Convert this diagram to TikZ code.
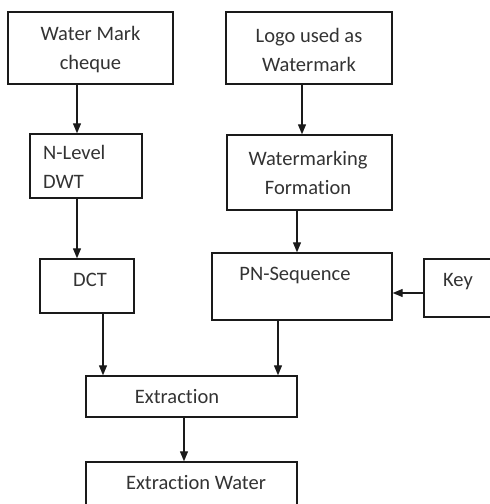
\documentclass[tikz,border=0pt]{standalone}
\usepackage{fontspec}
\setmainfont[Ligatures={NoCommon}]{Carlito}
\usetikzlibrary{arrows.meta,calc}
\definecolor{ink}{HTML}{1A1A1A}
\definecolor{inktext}{HTML}{333333}
\tikzset{>={Triangle[width=8pt,length=10pt]},line width=1.3pt,
  box/.style={draw=ink,line width=1.4pt,rectangle,inner sep=0pt},
  txt/.style={text=inktext,font=\fontsize{20.5}{29}\selectfont,inner sep=0pt,align=center},
  link/.style={->,draw=ink,line width=1.3pt}}

\begin{document}
\begin{tikzpicture}[x=1pt,y=-1pt]
\useasboundingbox (0,0) rectangle (490,504);
% Left column: cheque, transforms.
\node[box,minimum width=165,minimum height=72] (cheque) at (90.5,48) {};\node[txt] at (90.5,50) {Water Mark\\cheque};
\node[box,minimum width=112,minimum height=64] (dwt) at (86,166) {};\node[txt,align=left,anchor=west] at (43,167) {N-Level\\DWT};
\node[box,minimum width=94,minimum height=54] (dct) at (87,286) {};\node[txt,anchor=base] at (90,286) {DCT};
% Right column: logo path and key.
\node[box,minimum width=166,minimum height=72] (logo) at (309,48) {};\node[txt] at (309,50) {Logo used as\\Watermark};
\node[box,minimum width=165,minimum height=75] (form) at (309.5,172.5) {};\node[txt] at (308,173) {Watermarking\\Formation};
\node[box,minimum width=180,minimum height=67] (pn) at (302,286.5) {};\node[txt,anchor=base] at (295,280) {PN-Sequence};
\node[box,minimum width=80,minimum height=58] (key) at (464,288) {};\node[txt,anchor=base] at (458,286) {Key};
% Bottom: extraction.
\node[box,minimum width=211,minimum height=41] (extr) at (191.5,396.5) {};\node[txt,anchor=base] at (177,403) {Extraction};
\node[box,minimum width=211,minimum height=48] (water) at (191.5,486) {};\node[txt,anchor=base] at (196,489) {Extraction Water};
% Connectors.
\coordinate (c1) at (77,0);\coordinate (c2) at (302,0);\coordinate (c3) at (297,0);
\coordinate (c4) at (103,0);\coordinate (c5) at (278,0);\coordinate (c6) at (184,0);\coordinate (r1) at (0,293);
\draw[link] (cheque.south -| c1) -- (dwt.north -| c1);\draw[link] (dwt.south -| c1) -- (dct.north -| c1);
\draw[link] (logo.south -| c2) -- (form.north -| c2);\draw[link] (form.south -| c3) -- (pn.north -| c3);
\draw[link] (key.west |- r1) -- (pn.east |- r1);
\draw[link] (dct.south -| c4) -- (extr.north -| c4);\draw[link] (pn.south -| c5) -- (extr.north -| c5);
\draw[link] (extr.south -| c6) -- (water.north -| c6);
\end{tikzpicture}
\end{document}
